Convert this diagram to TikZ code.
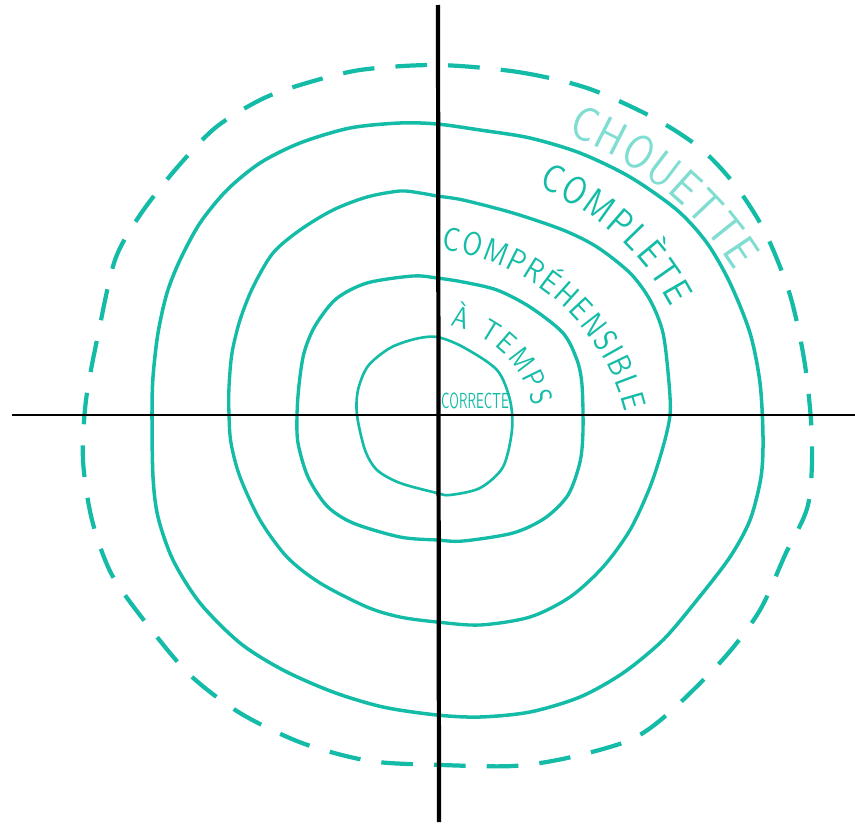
\documentclass[tikz,border=0pt]{standalone}
\usepackage{fontspec}
\usetikzlibrary{decorations.text}
\newfontfamily\handfont{lmsans10-regular.otf}[FakeStretch=0.82]
\newfontfamily\tinyhand{lmsans10-regular.otf}[FakeStretch=0.6]
\definecolor{anneau}{HTML}{14BCA7}
\definecolor{chouette}{HTML}{80DDD1}
\begin{document}
\begin{tikzpicture}[x=0.01cm,y=-0.01cm,
  ring/.style={draw=anneau,line width=0.95pt},
  legende/.style={decorate,decoration={text along path,text align={fit to path},text={#1}}}]
\useasboundingbox (0,0) rectangle (855,824);
\draw[ring,line width=0.75pt] plot[smooth cycle] coordinates {(437,337) (463,347) (497,370) (510,400) (512,430) (503,467) (480,488) (450,495) (437,493) (400,483) (377,470) (365,450) (357,415) (358,390) (368,366) (390,348) (415,339)};
\draw[ring] plot[smooth cycle] coordinates {(437,278) (463,282) (497,290) (530,307) (563,333) (577,360) (582,385) (583,430) (580,462) (568,495) (545,518) (513,533) (463,541) (437,540) (400,537) (353,523) (327,506) (308,477) (298,443) (297,415) (299,385) (304,353) (315,326) (336,299) (367,283) (413,276)};
\draw[ring] plot[smooth cycle] coordinates {(437,196) (463,200) (513,213) (563,230) (597,247) (630,273) (650,300) (663,333) (669,383) (670,415) (663,447) (650,487) (630,530) (603,567) (570,597) (530,617) (480,625) (437,622) (400,617) (367,607) (320,583) (287,557) (260,520) (240,477) (231,443) (229,415) (229,387) (232,353) (240,320) (253,287) (273,253) (300,230) (333,210) (367,197) (400,191) (420,193)};
\draw[ring,line width=1pt] plot[smooth cycle] coordinates {(437,124) (480,130) (530,138) (580,153) (630,177) (677,210) (707,243) (730,283) (750,333) (760,383) (763,437) (761,477) (750,520) (730,557) (697,600) (663,640) (623,673) (580,697) (530,712) (480,717) (437,715) (383,707) (333,692) (283,670) (240,643) (200,603) (173,560) (158,517) (153,477) (152,415) (153,377) (158,333) (167,293) (180,260) (200,223) (227,190) (260,163) (300,143) (350,128) (400,123)};
\draw[ring,line width=1.2pt,dash pattern=on 9pt off 6pt] plot[smooth cycle] coordinates {(437,65) (518,72) (587,88) (652,117) (700,148) (735,185) (765,232) (790,295) (805,365) (812,440) (808,505) (785,555) (760,610) (725,657) (670,712) (630,740) (567,758) (513,766) (442,765) (370,761) (302,743) (240,713) (190,675) (150,628) (112,575) (92,520) (83,460) (86,400) (98,335) (115,260) (140,215) (175,170) (215,128) (260,100) (300,85) (360,70)};
\draw[line width=0.6pt] (12,415) -- (855,415);
\draw[line width=1.2pt] (438,5) -- (439,822);
\path[legende={|\handfont\fontsize{13.5}{14}\selectfont\color{chouette}|CHOUETTE}] (454,446) ++(-70:331) arc (-70:-32:331);
\path[legende={|\handfont\fontsize{11}{12}\selectfont\color{anneau}|COMPLÈTE}] (440,430) ++(-68:262) arc (-68:-28:262);
\path[legende={|\handfont\fontsize{9.3}{10}\selectfont\color{anneau}|COMPRÉHENSIBLE}] (415,464) ++(-83:216) arc (-83:-14:216);
\path[legende={|\handfont\fontsize{8.5}{9}\selectfont\color{anneau}|À TEMPS}] (430,430) ++(-79:106) arc (-79:-13:106);
\node[font=\tinyhand\fontsize{6.2}{7}\selectfont,text=anneau,inner sep=0pt] (correcte) at (475,401) {CORRECTE};
\end{tikzpicture}
\end{document}
